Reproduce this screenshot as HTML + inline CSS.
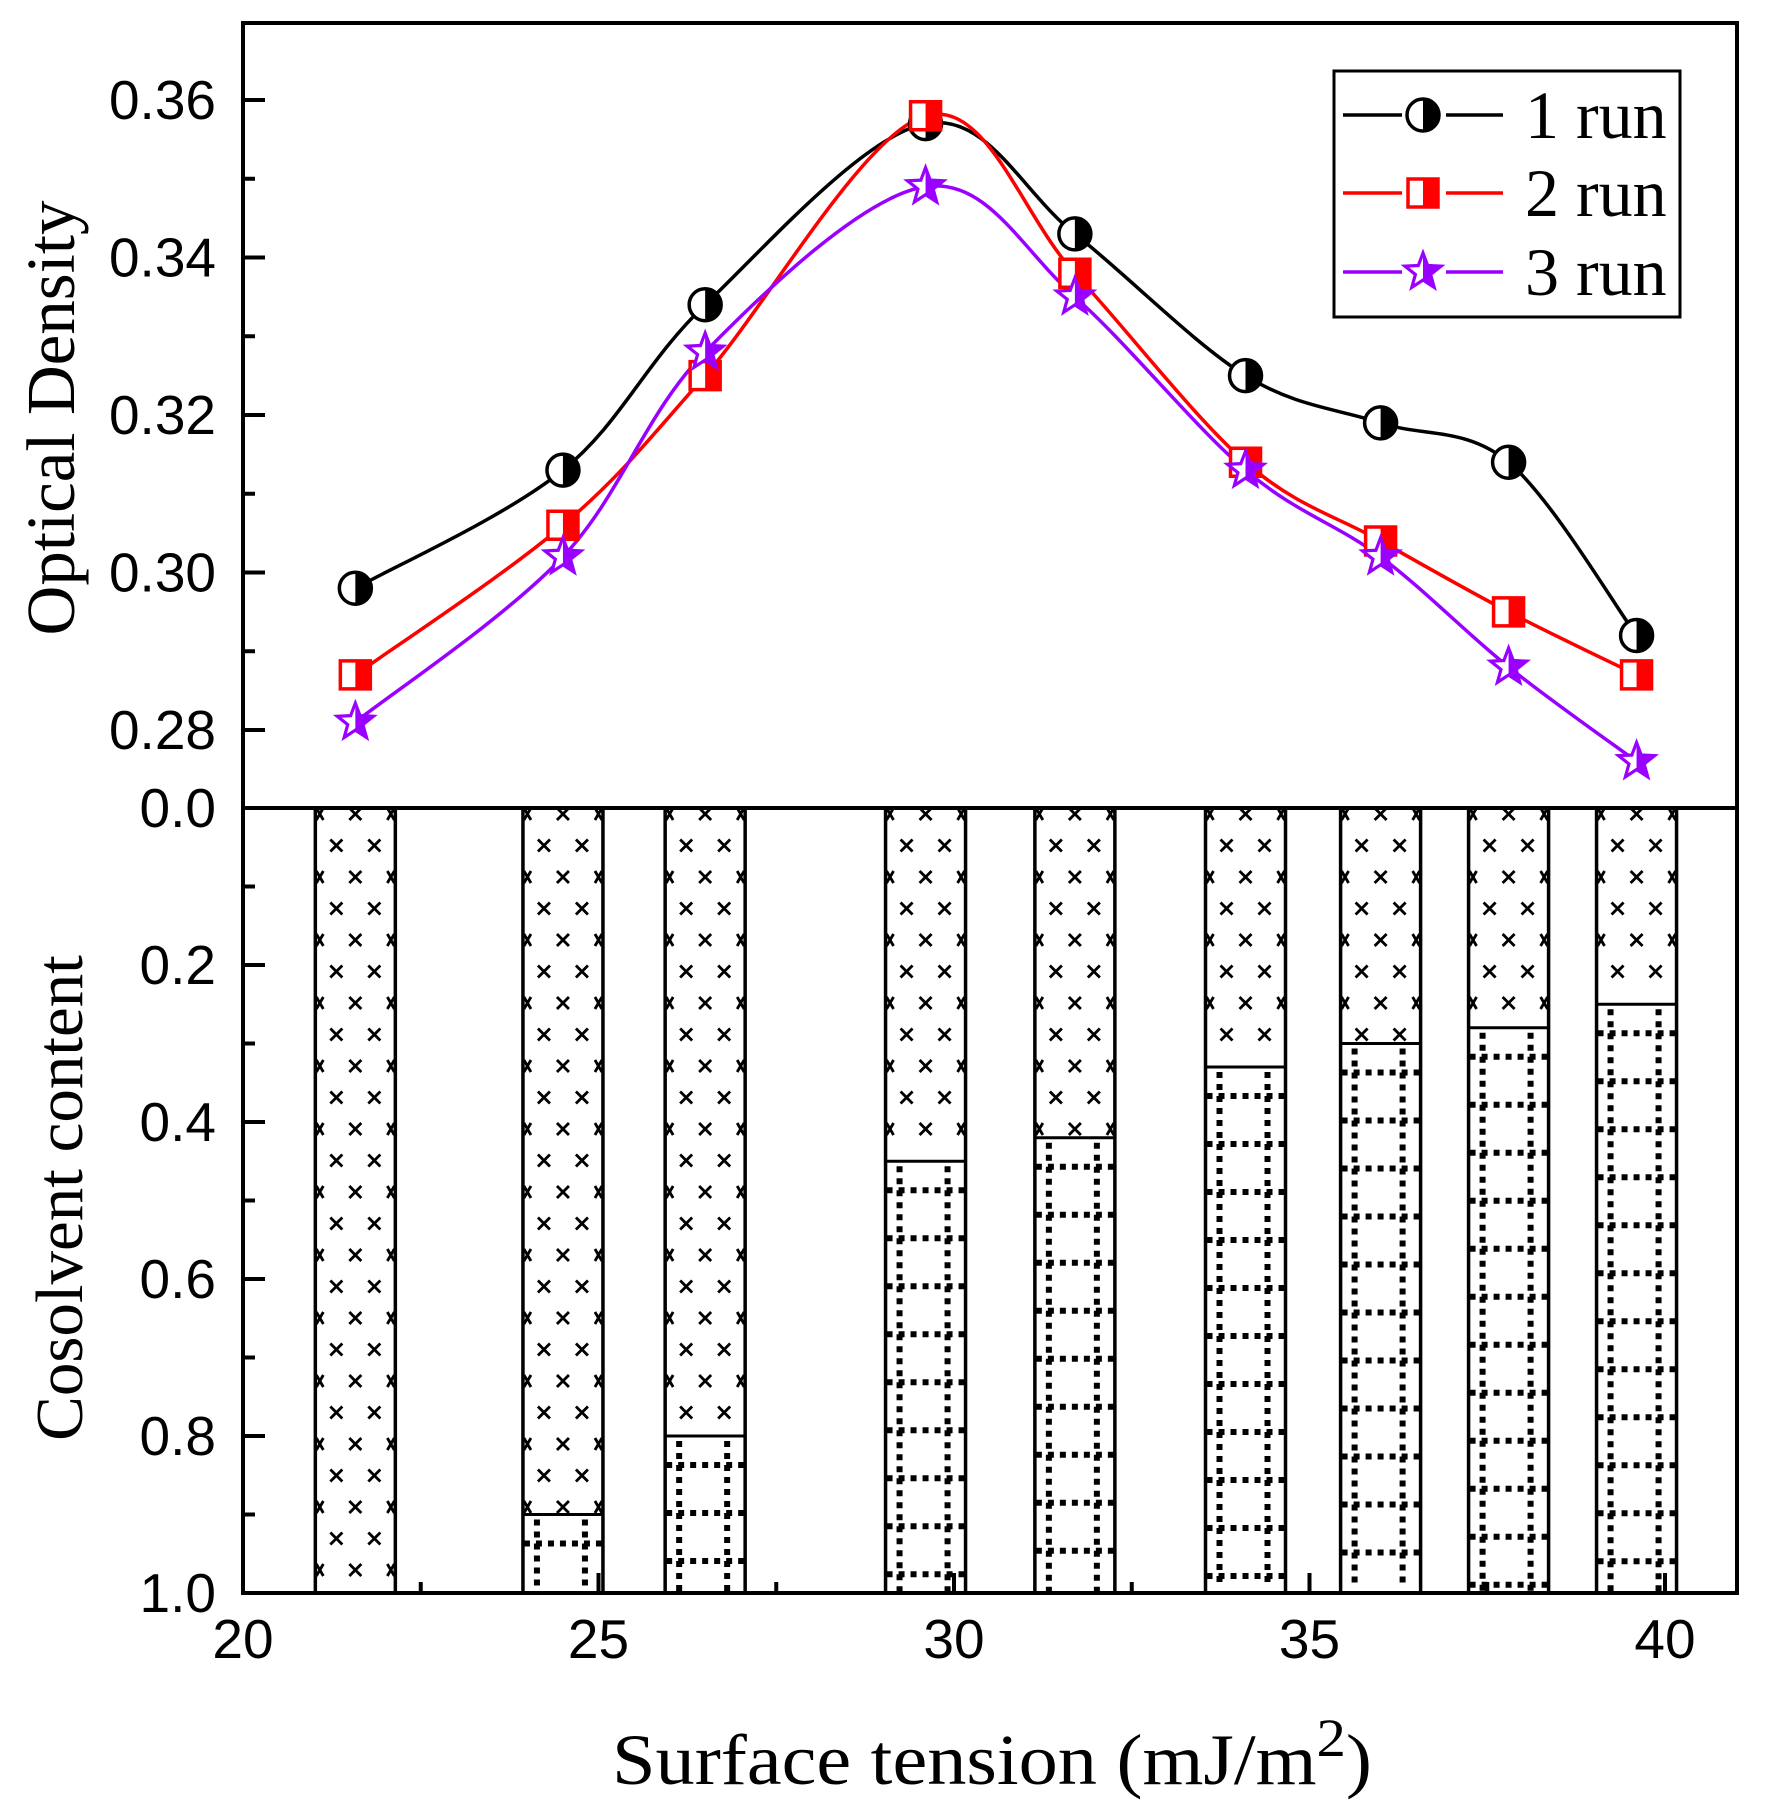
<!DOCTYPE html>
<html><head><meta charset="utf-8"><style>
html,body{margin:0;padding:0;background:#fff;}
svg{display:block;}
</style></head><body>
<svg id="chart" xmlns="http://www.w3.org/2000/svg" width="1774" height="1810" viewBox="0 0 1774 1810">
<rect x="0" y="0" width="1774" height="1810" fill="#fff"/>
<g id="bars"></g>
<g id="lines"></g>
<g id="axes"></g>
<text transform="translate(74,418) rotate(-90)" text-anchor="middle" font-family="Liberation Serif, serif" font-size="69">Optical Density</text>
<text transform="translate(82,1198) rotate(-90)" text-anchor="middle" font-family="Liberation Serif, serif" font-size="67">Cosolvent content</text>
<text x="612" y="1784" textLength="760" lengthAdjust="spacingAndGlyphs" font-family="Liberation Serif, serif" font-size="72">Surface tension (mJ/m<tspan dy="-28" font-size="54">2</tspan><tspan dy="28">)</tspan></text>
<g id="legend"></g>
</svg>
<script>
const xValues = [21.58, 24.5, 26.5, 29.6, 31.7, 34.1, 36.0, 37.8, 39.6];
const run1 = [0.298, 0.313, 0.334, 0.357, 0.343, 0.325, 0.319, 0.314, 0.292];
const run2 = [0.287, 0.306, 0.325, 0.358, 0.338, 0.314, 0.304, 0.295, 0.287];
const run3 = [0.281, 0.302, 0.328, 0.349, 0.335, 0.313, 0.302, 0.288, 0.276];
const cosolventBoundary = [1.0, 0.9, 0.8, 0.45, 0.42, 0.33, 0.30, 0.28, 0.25];
const xTicks = [20, 25, 30, 35, 40];
const odTicks = [0.28, 0.30, 0.32, 0.34, 0.36];
const odTickLabels = ["0.28", "0.30", "0.32", "0.34", "0.36"];
const coTicks = [0.0, 0.2, 0.4, 0.6, 0.8, 1.0];
const coTickLabels = ["0.0", "0.2", "0.4", "0.6", "0.8", "1.0"];
const seriesNames = ["1 run", "2 run", "3 run"];

const NS = "http://www.w3.org/2000/svg";
const L = 243, R = 1737, T = 23, MID = 808, B = 1593;
const xs = v => 243 + (v - 20) * 71.1;
const ys = v => 730 - (v - 0.28) * 7875;
const yc = v => 808 + v * 785;
function mk(tag, attrs, parent) { const e = document.createElementNS(NS, tag); for (const k in attrs) e.setAttribute(k, attrs[k]); parent.appendChild(e); return e; }

// Bars
const bars = document.getElementById('bars');
const bw = 80;
xValues.forEach((xv, i) => {
  const cx = xs(xv), left = cx - bw / 2, yb = yc(cosolventBoundary[i]);
  const g = mk('g', {}, bars);
  
  
  const rows = Math.floor((yb - MID) / 31.5) + 1;
  for (let r = 0; r < rows; r++) {
    const yy = MID + 6 + r * 31.5;
    if (yy > yb - 2) break;
    const offs = (r % 2 === 0) ? [2, 40, 78] : [21, 59];
    offs.forEach(o => {
      const x0 = left + o;
      const x1 = Math.max(left + 1, x0 - 6), x2 = Math.min(left + bw - 1, x0 + 6);
      const y1 = yy - 6, y2 = Math.min(yy + 6, yb - 1);
      mk('path', { d: `M${x1},${y1}L${x2},${y2}M${x2},${y1}L${x1},${y2}`, stroke: '#000', 'stroke-width': 2.8, fill: 'none' }, g);
    });
  }
  if (yb < B - 2) {
    let d = '';
    for (let y = yb + 8; y < B - 3; y += 12) {
      [left + 14, left + 62].forEach(vx => { d += `M${vx - 3},${y - 3}h6v6h-6z`; });
    }
    const firstH = yb + 29;
    for (let y = firstH; y < B - 3; y += 48) {
      for (let x = left + 4; x < left + bw - 2; x += 12) d += `M${x - 3},${y - 3}h6v6h-6z`;
    }
    mk('path', { d: d, fill: '#000' }, g);
    mk('line', { x1: left, x2: left + bw, y1: yb, y2: yb, stroke: '#000', 'stroke-width': 3 }, g);
  }
  mk('rect', { x: left, y: MID, width: bw, height: B - MID, fill: 'none', stroke: '#000', 'stroke-width': 3.5 }, g);
});

// Lines
const linesG = document.getElementById('lines');
function smoothPath(pts) {
  let d = `M${pts[0][0]},${pts[0][1]}`;
  for (let i = 0; i < pts.length - 1; i++) {
    const p0 = pts[Math.max(0, i - 1)], p1 = pts[i], p2 = pts[i + 1], p3 = pts[Math.min(pts.length - 1, i + 2)];
    const c1x = p1[0] + (p2[0] - p0[0]) / 6, c1y = p1[1] + (p2[1] - p0[1]) / 6;
    const c2x = p2[0] - (p3[0] - p1[0]) / 6, c2y = p2[1] - (p3[1] - p1[1]) / 6;
    d += `C${c1x},${c1y} ${c2x},${c2y} ${p2[0]},${p2[1]}`;
  }
  return d;
}
function marker(type, x, y, color, parent) {
  const g = mk('g', {}, parent);
  if (type === 0) {
    mk('circle', { cx: x, cy: y, r: 16, fill: '#fff', stroke: '#000', 'stroke-width': 3.5 }, g);
    mk('path', { d: `M${x},${y - 16}A16,16 0 0 1 ${x},${y + 16}Z`, fill: '#000' }, g);
  } else if (type === 1) {
    mk('rect', { x: x - 15, y: y - 14, width: 30, height: 28, fill: '#fff', stroke: color, 'stroke-width': 3.5 }, g);
    mk('rect', { x: x, y: y - 14, width: 15, height: 28, fill: color }, g);
  } else {
    let pts = [];
    for (let k = 0; k < 10; k++) {
      const a = -Math.PI / 2 + k * Math.PI / 5, rr = k % 2 === 0 ? 19 : 8;
      pts.push([x + rr * Math.cos(a), y + rr * Math.sin(a)]);
    }
    mk('polygon', { points: pts.map(p => p.join(',')).join(' '), fill: '#fff', stroke: color, 'stroke-width': 3.2 }, g);
    mk('polygon', { points: [[x, y - 19], ...pts.slice(1, 6)].map(p => p.join(',')).join(' '), fill: color }, g);
  }
  return g;
}
const series = [[run1, '#000', 0], [run2, '#ff0000', 1], [run3, '#9900ff', 2]];
series.forEach(([vals, color, type], si) => {
  const pts = xValues.map((xv, i) => [xs(xv), ys(vals[i])]);
  const p = mk('path', { d: smoothPath(pts), fill: 'none', stroke: color, 'stroke-width': 3.5 }, linesG);
  
  
});
series.forEach(([vals, color, type], si) => {
  xValues.forEach((xv, i) => {
    const m = marker(type, xs(xv), ys(vals[i]), color, linesG);
    
    
  });
});

// Axes
const ax = document.getElementById('axes');
mk('rect', { x: L, y: T, width: R - L, height: B - T, fill: 'none', stroke: '#000', 'stroke-width': 4 }, ax);
mk('line', { x1: L, x2: R, y1: MID, y2: MID, stroke: '#000', 'stroke-width': 4 }, ax);
const tf = 'Liberation Sans, Arial, sans-serif';
xTicks.forEach((t, i) => {
  const x = xs(t);
  mk('line', { x1: x, x2: x, y1: B, y2: B - 20, stroke: '#000', 'stroke-width': 4 }, ax);
  const tx = mk('text', { x: x, y: 1658, 'text-anchor': 'middle', 'font-family': tf, 'font-size': 55 }, ax);
  tx.textContent = String(t);
  
  
  if (i < xTicks.length - 1) { const xm = xs(t + 2.5); mk('line', { x1: xm, x2: xm, y1: B, y2: B - 11, stroke: '#000', 'stroke-width': 4 }, ax); }
});
odTicks.forEach((t, i) => {
  const y = ys(t);
  mk('line', { x1: L, x2: L + 22, y1: y, y2: y, stroke: '#000', 'stroke-width': 4 }, ax);
  const tx = mk('text', { x: 216, y: y + 19, 'text-anchor': 'end', 'font-family': tf, 'font-size': 55 }, ax);
  tx.textContent = odTickLabels[i];
  
  
});
[0.29, 0.31, 0.33, 0.35, 0.37].forEach(t => { const y = ys(t); if (y > T) mk('line', { x1: L, x2: L + 12, y1: y, y2: y, stroke: '#000', 'stroke-width': 4 }, ax); });
coTicks.forEach((t, i) => {
  const y = yc(t);
  if (i > 0 && i < coTicks.length - 1) mk('line', { x1: L, x2: L + 22, y1: y, y2: y, stroke: '#000', 'stroke-width': 4 }, ax);
  const tx = mk('text', { x: 216, y: y + 19, 'text-anchor': 'end', 'font-family': tf, 'font-size': 55 }, ax);
  tx.textContent = coTickLabels[i];
  
  
});
[0.1, 0.3, 0.5, 0.7, 0.9].forEach(t => { const y = yc(t); mk('line', { x1: L, x2: L + 12, y1: y, y2: y, stroke: '#000', 'stroke-width': 4 }, ax); });

// Legend
const lg = document.getElementById('legend');
mk('rect', { x: 1334, y: 71, width: 346, height: 246, fill: '#fff', stroke: '#000', 'stroke-width': 3 }, lg);
const ly = [115, 193, 272];
series.forEach(([vals, color, type], si) => {
  const e = mk('g', {}, lg);
  
  
  mk('line', { x1: 1343, x2: 1503, y1: ly[si], y2: ly[si], stroke: color, 'stroke-width': 3.5 }, e);
  mk('rect', { x: 1402, y: ly[si] - 24, width: 44, height: 48, fill: '#fff' }, e);
  marker(type, 1423, ly[si], color, e);
  const t = mk('text', { x: 1525, y: ly[si] + 23, 'font-family': 'Liberation Serif, serif', 'font-size': 68 }, e);
  t.textContent = seriesNames[si];
});
</script>
</body></html>
